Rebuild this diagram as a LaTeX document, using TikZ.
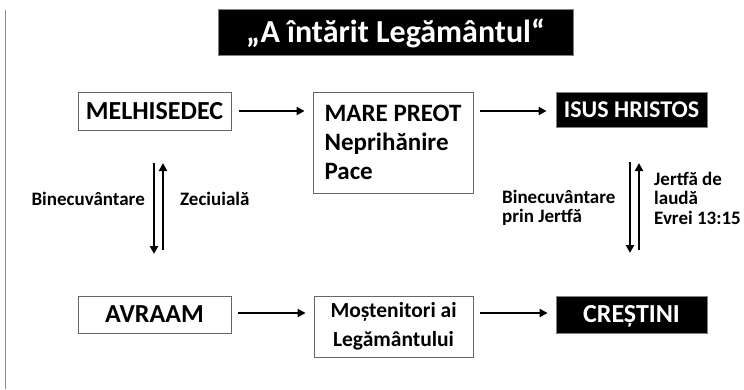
\documentclass[tikz,border=0pt]{standalone}
\usepackage{fontspec}
\setmainfont{Carlito}
\usetikzlibrary{arrows.meta}
\begin{document}
\begin{tikzpicture}[x=1pt,y=-1pt,
  font=\bfseries,
  wbox/.style={draw=black!60, line width=0.8pt, fill=white, inner sep=0pt, align=center},
  bbox/.style={draw=black!50, line width=0.8pt, fill=black, text=white, inner sep=0pt, align=center},
  capc/.style={text height=#1, text depth=0pt},
  arr/.style={line width=2.3pt, -{Triangle[length=8pt,width=8pt]}},
  lbl/.style={inner sep=0pt, font=\bfseries\fontsize{19}{19.5}\selectfont}
]
\useasboundingbox (0,0) rectangle (744,389);
\draw[color={rgb,255:red,128;green,144;blue,160}, line width=1pt] (5,10) -- (5,389);

\node[bbox, capc=20.6pt, minimum width=355pt, minimum height=46pt, font=\bfseries\fontsize{32}{36}\selectfont] (title) at (395.5,32) {„A întărit Legământul“};

\node[wbox, capc=16.7pt, minimum width=153pt, minimum height=38pt, font=\bfseries\fontsize{26}{28}\selectfont] (mel) at (154.5,111) {MELHISEDEC};
\node[wbox, minimum width=160pt, minimum height=101pt, align=left, font=\bfseries\fontsize{25}{29}\selectfont] (mare) at (393,142.5) {MARE PREOT\\Neprihănire\\Pace};
\node[bbox, capc=15.5pt, minimum width=151pt, minimum height=35pt, font=\bfseries\fontsize{24}{28}\selectfont] (isus) at (631.5,109.5) {ISUS HRISTOS};

\node[wbox, capc=16.7pt, minimum width=153pt, minimum height=37pt, font=\bfseries\fontsize{26}{28}\selectfont] (avraam) at (154.5,314.5) {AVRAAM};
\node[wbox, minimum width=159pt, minimum height=61pt, font=\bfseries\fontsize{21.5}{29}\selectfont] (most) at (393.5,326.5) {Moștenitori ai\\Legământului};
\node[bbox, capc=16.7pt, minimum width=151pt, minimum height=37pt, font=\bfseries\fontsize{26}{28}\selectfont] (cres) at (631.5,314.5) {CREȘTINI};

\draw[arr, shorten <=8pt, shorten >=8pt] (mel.east) -- (mel.east -| mare.west);
\draw[arr, shorten <=7pt, shorten >=9pt] (mel.east -| mare.east) -- (mel.east -| isus.west);
\draw[arr, shorten <=7pt, shorten >=8pt] (avraam.east |- 0,313) -- (most.west |- 0,313);
\draw[arr, shorten <=7pt, shorten >=8pt] (most.east |- 0,313) -- (cres.west |- 0,313);

\coordinate (ld1) at (154,163);
\coordinate (ld2) at (154,254);
\coordinate (lu1) at (163,250);
\coordinate (lu2) at (163,163);
\draw[arr] (ld1) -- (ld2);
\draw[arr] (lu1) -- (lu2);

\coordinate (rd1) at (630,162);
\coordinate (rd2) at (630,253);
\coordinate (ru1) at (639,250);
\coordinate (ru2) at (639,163);
\draw[arr] (rd1) -- (rd2);
\draw[arr] (ru1) -- (ru2);

\node[lbl, anchor=east] (bin1) at (145,199) {Binecuvântare};
\node[lbl, anchor=west] (zec) at (180,199) {Zeciuială};
\node[lbl, anchor=west, align=left] (bin2) at (502,208) {Binecuvântare\\prin Jertfă};
\node[lbl, anchor=west, align=left] (jer) at (654,198) {Jertfă de\\laudă\\Evrei 13:15};
\end{tikzpicture}
\end{document}
